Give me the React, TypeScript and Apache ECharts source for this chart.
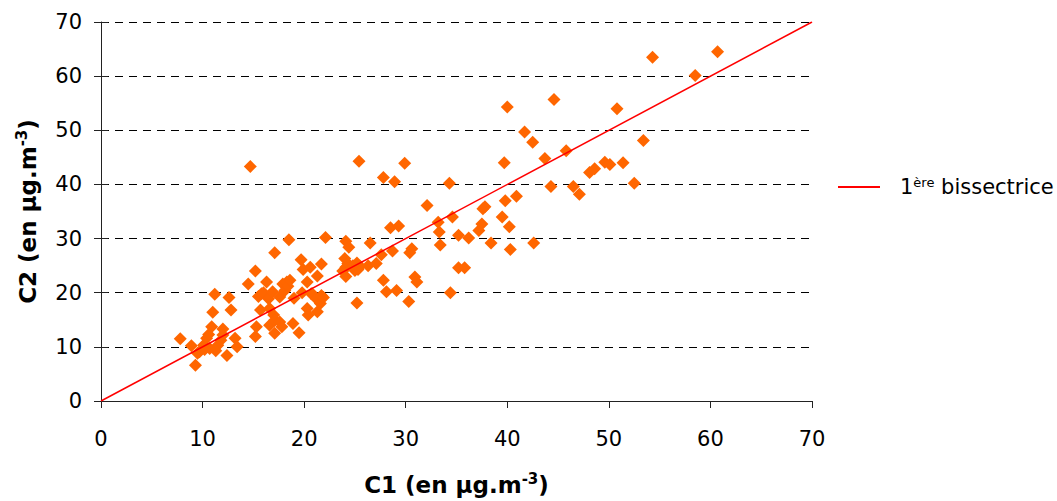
import React, { useEffect, useRef } from "react";
import * as echarts from "echarts";

const xTicks = [0, 10, 20, 30, 40, 50, 60, 70];
const yTicks = [0, 10, 20, 30, 40, 50, 60, 70];

const c1Values = [
  7.8, 8.9, 9.3, 9.7, 10.1, 10.4, 10.7, 9.5, 10.2, 10.9, 11.0, 11.2, 11.5, 12.0, 11.8, 12.0, 12.4, 12.6, 12.8, 13.2, 13.4, 11.3, 10.6,
  14.5, 14.7, 15.2, 15.2, 15.3, 15.5, 15.8, 15.7, 16.0, 16.3, 16.5, 16.6, 16.6, 17.0, 17.1, 17.1, 17.1, 17.6, 17.8, 17.6, 17.9, 18.1, 18.3, 18.4, 18.6, 18.5, 18.9, 19.5, 19.7, 19.9, 19.8, 20.3, 20.7, 20.6, 20.3, 20.4, 20.8, 21.2, 21.3, 21.6, 21.7, 21.7, 21.9, 21.3, 22.1, 19.0, 16.9,
  24.0, 24.1, 24.4, 24.3, 24.1, 24.1, 25.2, 25.5, 25.0, 25.3, 25.2, 25.4, 26.3, 26.5, 27.1, 27.6, 27.8, 27.8, 28.1, 28.5, 28.7, 28.9, 29.1, 29.3, 29.9, 30.3, 30.4, 30.6, 30.9, 31.1, 23.8, 24.8,
  32.1, 33.2, 33.3, 33.4, 34.3, 34.4, 34.6, 35.2, 35.2, 35.8, 36.2, 37.2, 37.5, 37.6, 37.8, 38.4, 39.5, 39.7, 39.8, 40.0, 40.2, 40.3, 40.9, 41.7, 42.5, 42.6, 43.7, 44.3, 44.6, 45.8, 46.5, 47.1, 48.1, 48.6, 49.6, 50.1, 50.8, 51.4, 52.5, 53.4, 54.3, 58.5, 60.7,
];

const c2Values = [
  11.5, 10.2, 6.6, 9.1, 10.3, 11.6, 9.7, 8.8, 9.5, 13.7, 16.4, 19.7, 10.3, 13.3, 11.2, 12.2, 8.4, 19.1, 16.8, 11.6, 10.0, 9.3, 12.3,
  21.6, 43.3, 24.0, 11.9, 13.7, 19.3, 19.8, 16.8, 20.0, 22.0, 18.9, 17.1, 14.0, 15.9, 14.9, 12.5, 27.4, 14.6, 13.7, 19.2, 21.6, 20.4, 22.0, 21.2, 22.3, 29.8, 14.3, 12.6, 26.1, 24.3, 20.0, 22.0, 19.8, 24.7, 17.1, 15.9, 19.8, 18.9, 23.1, 18.0, 25.3, 19.5, 19.1, 16.5, 30.2, 19.0, 20.2,
  26.3, 29.5, 28.4, 25.4, 24.7, 23.0, 25.5, 24.9, 24.1, 24.3, 18.1, 44.3, 25.0, 29.2, 25.4, 27.0, 41.3, 22.3, 20.2, 32.0, 27.7, 40.5, 20.4, 32.3, 43.9, 18.4, 27.4, 28.1, 22.9, 22.0, 24.0, 25.0,
  36.1, 33.0, 31.2, 28.8, 40.2, 20.0, 34.0, 30.6, 24.6, 24.6, 30.1, 31.5, 32.7, 35.5, 35.9, 29.2, 34.0, 44.0, 37.0, 54.3, 32.2, 28.0, 37.8, 49.7, 47.8, 29.2, 44.8, 39.6, 55.7, 46.2, 39.6, 38.2, 42.2, 42.9, 44.1, 43.7, 54.0, 44.0, 40.2, 48.1, 63.5, 60.1, 64.5,
];

const bisectorX = [0, 70];
const bisectorY = [0, 70];

const FONT = "DejaVu Sans, Verdana, sans-serif";

const nameStyle = {
  fontFamily: FONT,
  fontSize: 23,
  fontWeight: "bold",
  color: "#000",
  rich: {
    sup: { fontFamily: FONT, fontSize: 15, fontWeight: "bold", color: "#000", verticalAlign: "top", padding: [0, 0, 12, 0] },
  },
};

export default function App() {
  const ref = useRef<HTMLDivElement>(null);

  useEffect(() => {
    if (!ref.current) return;
    const chart = echarts.init(ref.current, null, { renderer: "svg" });
    const points = c1Values.map((x, i) => [x, c2Values[i]]);
    const bisector = bisectorX.map((x, i) => [x, bisectorY[i]]);
    const yMin = yTicks[0];
    const yMax = yTicks[yTicks.length - 1];

    chart.setOption({
      animation: false,
      backgroundColor: "#ffffff",
      grid: { left: 101, right: 245, top: 22, bottom: 98 },
      xAxis: {
        type: "value",
        min: xTicks[0],
        max: xTicks[xTicks.length - 1],
        interval: 10,
        name: "C1 (en µg.m{sup|-3})",
        nameLocation: "middle",
        nameGap: 70,
        nameTextStyle: nameStyle,
        axisLine: { show: true, lineStyle: { color: "#222", width: 1 } },
        axisTick: { show: true, length: 7, lineStyle: { color: "#222" } },
        axisLabel: { fontFamily: FONT, fontSize: 21, color: "#000", margin: 27 },
        splitLine: { show: false },
      },
      yAxis: [
        {
          type: "value",
          min: yMin,
          max: yMax,
          interval: 10,
          name: "C2 (en µg.m{sup|-3})",
          nameLocation: "middle",
          nameRotate: 90,
          nameGap: 60,
          nameTextStyle: nameStyle,
          axisLine: { show: true, lineStyle: { color: "#222", width: 1 } },
          axisTick: { show: true, length: 7, lineStyle: { color: "#222" } },
          axisLabel: { fontFamily: FONT, fontSize: 21, color: "#000", margin: 19 },
          splitLine: { show: true, lineStyle: { color: "#000", width: 1, type: [8, 6] } },
        },
        {
          type: "value",
          min: yMin,
          max: yMax,
          interval: 10,
          position: "left",
          axisLine: { show: false },
          axisTick: { show: true, inside: true, length: 7, lineStyle: { color: "#222" } },
          axisLabel: { show: false },
          splitLine: { show: false },
        },
      ],
      legend: {
        show: true,
        data: [{ name: "bisector", icon: "rect" }],
        left: 838,
        top: 176,
        padding: 0,
        itemWidth: 42,
        itemHeight: 2,
        formatter: () => "1{sup|ère} bissectrice",
        textStyle: {
          fontFamily: FONT,
          fontSize: 21,
          color: "#000",
          padding: [0, 0, 0, 15],
          rich: {
            sup: { fontFamily: FONT, fontSize: 13, color: "#000", verticalAlign: "top", padding: [0, 0, 9, 0] },
          },
        },
      },
      series: [
        {
          name: "C2",
          type: "scatter",
          data: points,
          symbol: "diamond",
          symbolSize: 13,
          itemStyle: { color: "#FF6600", opacity: 1 },
          z: 2,
        },
        {
          name: "bisector",
          type: "line",
          data: bisector,
          showSymbol: false,
          symbol: "none",
          lineStyle: { color: "#FF0000", width: 1.5 },
          itemStyle: { color: "#FF0000" },
          z: 3,
        },
      ],
    });

    return () => chart.dispose();
  }, []);

  return (
    <div
      ref={ref}
      style={{ position: "fixed", left: 0, top: 0, width: 1057, height: 501 }}
    />
  );
}
